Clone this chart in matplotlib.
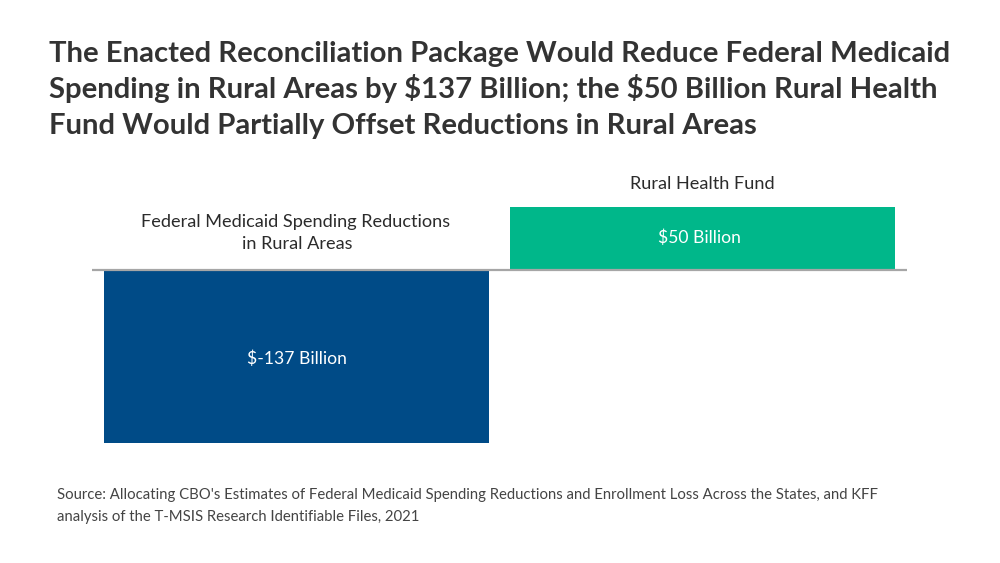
import matplotlib.pyplot as plt

categories = ["Federal Medicaid Spending Reductions\nin Rural Areas", "Rural Health Fund"]
values = [-137, 50]
value_labels = ["$-137 Billion", "$50 Billion"]
colors = ["#004b87", "#00b78a"]

title_lines = ["The Enacted Reconciliation Package Would Reduce Federal Medicaid",
               "Spending in Rural Areas by \\$137 Billion; the \\$50 Billion Rural Health",
               "Fund Would Partially Offset Reductions in Rural Areas"]
source_lines = ["Source: Allocating CBO's Estimates of Federal Medicaid Spending Reductions and Enrollment Loss Across the States, and KFF",
                "analysis of the T-MSIS Research Identifiable Files, 2021"]

plt.rcParams['font.family'] = ['Lato', 'DejaVu Sans']

fig = plt.figure(figsize=(10, 5.63), dpi=100)
# axes spans the baseline rule, x 92..907 px, y 207..443 px
ax = fig.add_axes([0.092, 1 - 443/563, 0.815, 236/563])

x = [0, 1]
ax.bar(x, values, width=0.948, color=colors)
ax.set_xlim(-0.5037, 1.5037)
ax.set_ylim(-137, 50)
ax.axhline(0, color="#a6a6a6", lw=1.6)
ax.axis("off")

fig.text(0.297, 1 - 359/563, value_labels[0].replace("$", "\\$"), color="white", fontsize=12.6, ha="center", va="center")
fig.text(0.699, 1 - 238/563, value_labels[1].replace("$", "\\$"), color="white", fontsize=12.6, ha="center", va="center")

lines = categories[0].split("\n")
fig.text(0.2955, 1 - 222/563, lines[0], color="#2b2b2b", fontsize=13.05, ha="center", va="center")
fig.text(0.2975, 1 - 244/563, lines[1], color="#2b2b2b", fontsize=13.05, ha="center", va="center")
fig.text(0.702, 1 - 184/563, categories[1], color="#2b2b2b", fontsize=13.05, ha="center", va="center")

# each title line placed by baseline so the spacing stays even
for i, line in enumerate(title_lines):
    fig.text(0.049, 1 - (62 + 36*i)/563, line, color="#333333", fontsize=21.05, fontweight="bold", ha="left", va="baseline")
for i, line in enumerate(source_lines):
    fig.text(0.057, 1 - (498.5 + 22*i)/563, line, color="#444444", fontsize=10.68, ha="left", va="baseline")

plt.savefig("out.png", dpi=100)
